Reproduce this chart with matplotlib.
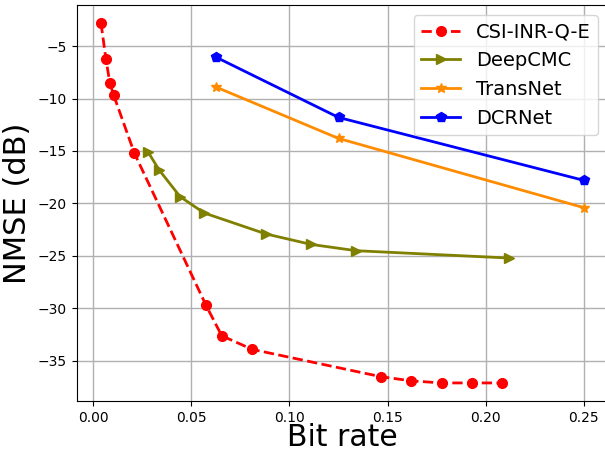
import matplotlib
matplotlib.use('Agg')
import matplotlib.pyplot as plt

# CSI-INR-Q-E
inr_rate = [0.004, 0.0065, 0.0085, 0.0105, 0.021, 0.0575, 0.0655, 0.081, 0.1465, 0.162, 0.1775, 0.193, 0.2085]
inr_nmse = [-2.8, -6.2, -8.5, -9.7, -15.2, -29.7, -32.6, -33.9, -36.5, -36.9, -37.1, -37.1, -37.1]

# DeepCMC
cmc_rate = [0.028, 0.0336, 0.0443, 0.0565, 0.088, 0.111, 0.134, 0.212]
cmc_nmse = [-15.1, -16.8, -19.35, -20.9, -22.9, -23.9, -24.5, -25.2]

# TransNet
trans_rate = [0.0625, 0.125, 0.25]
trans_nmse = [-8.9, -13.8, -20.4]

# DCRNet
dcr_rate = [0.0625, 0.125, 0.25]
dcr_nmse = [-6.05, -11.8, -17.8]

fig, ax = plt.subplots(figsize=(6.05, 4.51), dpi=100)

ax.plot(inr_rate, inr_nmse, 'o--', color='red', linewidth=2, markersize=7, label='CSI-INR-Q-E')
ax.plot(cmc_rate, cmc_nmse, '>-', color='olive', linewidth=2, markersize=7, label='DeepCMC')
ax.plot(trans_rate, trans_nmse, '*-', color='darkorange', linewidth=2, markersize=7, label='TransNet')
ax.plot(dcr_rate, dcr_nmse, 'p-', color='blue', linewidth=2, markersize=7, label='DCRNet')

ax.set_xlabel('Bit rate', fontsize=21.5, labelpad=-1)
ax.set_ylabel('NMSE (dB)', fontsize=22)
ax.grid(True, color='#b0b0b0', linewidth=1)
ax.legend(loc='upper right', fontsize=14)

# original figure is cropped slightly on the right
fig.subplots_adjust(left=0.127, right=1.005, top=0.989, bottom=0.111)
plt.savefig('out.png')
